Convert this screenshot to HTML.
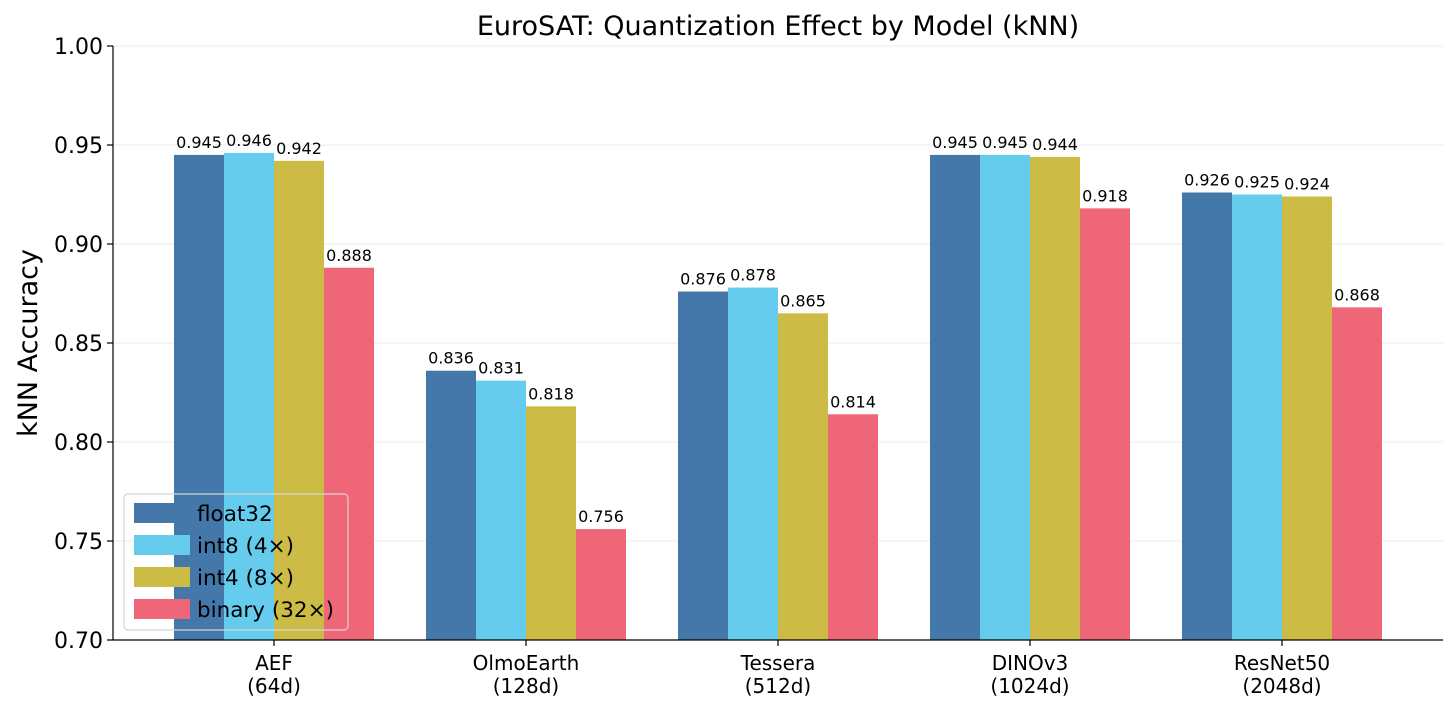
<!DOCTYPE html>
<html><head><meta charset="utf-8"><style>
body{margin:0;background:#fff;}
svg text{font-family:"DejaVu Sans","Liberation Sans",sans-serif;}
</style></head><body>
<svg id="chart" width="1456" height="711" xmlns="http://www.w3.org/2000/svg">
<rect width="1456" height="711" fill="#fff"/>
<text x="778" y="35" font-size="27" text-anchor="middle" fill="#000">EuroSAT: Quantization Effect by Model (kNN)</text>
<g id="grid"></g><g id="bars"></g><g id="axes"></g><g id="legend"></g>
</svg>
<script>
const categories = ["AEF\n(64d)","OlmoEarth\n(128d)","Tessera\n(512d)","DINOv3\n(1024d)","ResNet50\n(2048d)"];
const seriesNames = ["float32","int8 (4×)","int4 (8×)","binary (32×)"];
const float32 = [0.945,0.836,0.876,0.945,0.926];
const int8 = [0.946,0.831,0.878,0.945,0.925];
const int4 = [0.942,0.818,0.865,0.944,0.924];
const binary = [0.888,0.756,0.814,0.918,0.868];
const yTicks = [0.70,0.75,0.80,0.85,0.90,0.95,1.00];
const series = [float32,int8,int4,binary];
const colors = ["#4477AA","#66CCEE","#CCBB44","#EE6677"];
const NS="http://www.w3.org/2000/svg";
const x0=113,x1=1443,yTop=46,yBot=640,yMin=0.70,yMax=1.00;
const y = v => yBot-(v-yMin)/(yMax-yMin)*(yBot-yTop);
const groupW=252, firstC=274, barW=50;
const xc = i => firstC+i*groupW;
function mk(tag,attrs,parent,text){const e=document.createElementNS(NS,tag);for(const k in attrs)e.setAttribute(k,attrs[k]);if(text!==undefined)e.textContent=text;parent.appendChild(e);return e;}
const grid=document.getElementById('grid'),bars=document.getElementById('bars'),axes=document.getElementById('axes'),leg=document.getElementById('legend');
yTicks.forEach(t=>{
  const l=mk('line',{x1:x0,x2:x1,y1:y(t),y2:y(t),stroke:'#ebebeb','stroke-width':1},grid);
  
  
  const tk=mk('line',{x1:x0-6,x2:x0,y1:y(t),y2:y(t),stroke:'#000','stroke-width':1.2},axes);
  
  
  const tl=mk('text',{x:x0-10,y:y(t)+8,'font-size':22,'text-anchor':'end'},axes,t.toFixed(2));
  
  
});
series.forEach((s,si)=>{
  s.forEach((v,i)=>{
    const bx=xc(i)-2*barW+si*barW;
    const r=mk('rect',{x:bx,y:y(v),width:barW,height:yBot-y(v),fill:colors[si]},bars);
    
    
    const t=mk('text',{x:bx+barW/2,y:y(v)-7,'font-size':16,'text-anchor':'middle'},bars,v.toFixed(3));
    
    
  });
});
categories.forEach((c,i)=>{
  const tk=mk('line',{x1:xc(i),x2:xc(i),y1:yBot,y2:yBot+6,stroke:'#000','stroke-width':1.2},axes);
  
  
  c.split('\n').forEach((ln,k)=>{
    const t=mk('text',{x:xc(i),y:670+k*23,'font-size':20,'text-anchor':'middle'},axes,ln);
    
    
  });
});
const ax1=mk('line',{x1:x0,x2:x0,y1:yTop,y2:yBot,stroke:'#000','stroke-width':1.2},axes);


const ax2=mk('line',{x1:x0,x2:x1,y1:yBot,y2:yBot,stroke:'#000','stroke-width':1.2},axes);


const yt=mk('text',{x:0,y:0,'font-size':27,'text-anchor':'middle',transform:'translate(37,343) rotate(-90)'},axes,'kNN Accuracy');


const lb=mk('rect',{x:124,y:494,width:224,height:136,rx:4,fill:'none',stroke:'#d5d5d5','stroke-width':1.2},leg);


seriesNames.forEach((n,i)=>{
  const g=mk('g',{},leg);
  
  
  mk('rect',{x:134,y:503+i*32,width:56,height:20,fill:colors[i]},g);
  mk('text',{x:197,y:521+i*32,'font-size':21.5},g,n);
});
</script>
</body></html>
